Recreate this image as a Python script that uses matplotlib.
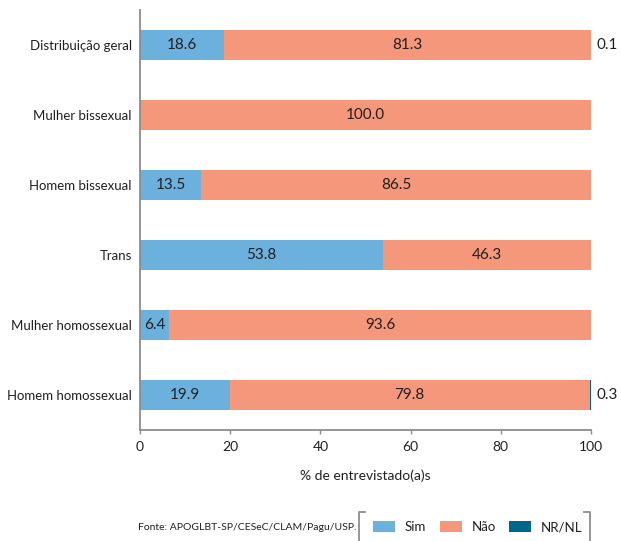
import matplotlib
matplotlib.use("Agg")
import matplotlib.pyplot as plt
from matplotlib.patches import Patch
from matplotlib.lines import Line2D
import numpy as np

plt.rcParams['font.family'] = ['Lato', 'DejaVu Sans']

categories = ["Homem homossexual", "Mulher homossexual", "Trans",
              "Homem bissexual", "Mulher bissexual", "Distribuição geral"]
sim = [19.9, 6.4, 53.8, 13.5, 0.0, 18.6]
nao = [79.8, 93.6, 46.3, 86.5, 100.0, 81.3]
nrnl = [0.3, 0.0, 0.0, 0.0, 0.0, 0.1]
series_names = ["Sim", "Não", "NR/NL"]
colors = ["#6CB1DE", "#F4977A", "#00678C"]
xticks = [0, 20, 40, 60, 80, 100]
xlabel = "% de entrevistado(a)s"
source = "Fonte: APOGLBT-SP/CESeC/CLAM/Pagu/USP."

W, H = 621, 541
fig = plt.figure(figsize=(W / 100, H / 100), dpi=100)
ax = fig.add_axes([140 / W, 1 - 430 / H, 451 / W, 420 / H])

y = np.arange(len(categories))
bh = 0.43
txt = "#231F20"
fs = 11

ax.barh(y, sim, height=bh, color=colors[0])
ax.barh(y, nao, left=sim, height=bh, color=colors[1])
left3 = [s + n for s, n in zip(sim, nao)]
ax.barh(y, nrnl, left=left3, height=bh, color=colors[2])

for i in range(len(categories)):
    if sim[i] > 0:
        ax.text(sim[i] / 2, y[i], f"{sim[i]:.1f}", ha="center", va="center",
                fontsize=fs, color=txt)
    if nao[i] > 0:
        ax.text(sim[i] + nao[i] / 2, y[i], f"{nao[i]:.1f}", ha="center",
                va="center", fontsize=fs, color=txt)
    if nrnl[i] > 0:
        ax.text(left3[i] + nrnl[i] + 1.2, y[i], f"{nrnl[i]:.1f}", ha="left",
                va="center", fontsize=fs, color=txt)

ax.set_xlim(0, 100)
ax.set_ylim(-0.5, len(categories) - 0.5)
ax.set_yticks(y)
ax.set_yticklabels(categories, fontsize=9.5, color=txt)
ax.set_xticks(xticks)
ax.set_xticklabels([str(t) for t in xticks], fontsize=10, color=txt)
ax.tick_params(axis="y", length=0, pad=6)
ax.tick_params(axis="x", length=3, width=1, color="#8C8C8C", pad=5)
for s in ["top", "right"]:
    ax.spines[s].set_visible(False)
for s in ["left", "bottom"]:
    ax.spines[s].set_color("#8C8C8C")
    ax.spines[s].set_linewidth(1.3)
ax.set_xlabel(xlabel, fontsize=10, color=txt, labelpad=12)

handles = [Patch(facecolor=c, edgecolor="none") for c in colors]
fig.legend(handles, series_names, loc="center left",
           bbox_to_anchor=(373 / W, 1 - 527 / H), ncol=3, frameon=False,
           borderpad=0, borderaxespad=0, fontsize=9.5, handlelength=1.67,
           handleheight=0.83, handletextpad=0.75, columnspacing=1.0,
           labelcolor=txt)

fig.text(356 / W, 1 - 527 / H, source, ha="right", va="center", fontsize=7.5,
         color=txt)

gray = "#8C8C8C"
for xs, ys in [([365, 359, 359], [512, 512, 541]),
               ([584, 590, 590], [512, 512, 541])]:
    fig.add_artist(Line2D([x / W for x in xs], [1 - v / H for v in ys],
                          color=gray, lw=1.3, transform=fig.transFigure))

fig.savefig("out.png", dpi=100)
